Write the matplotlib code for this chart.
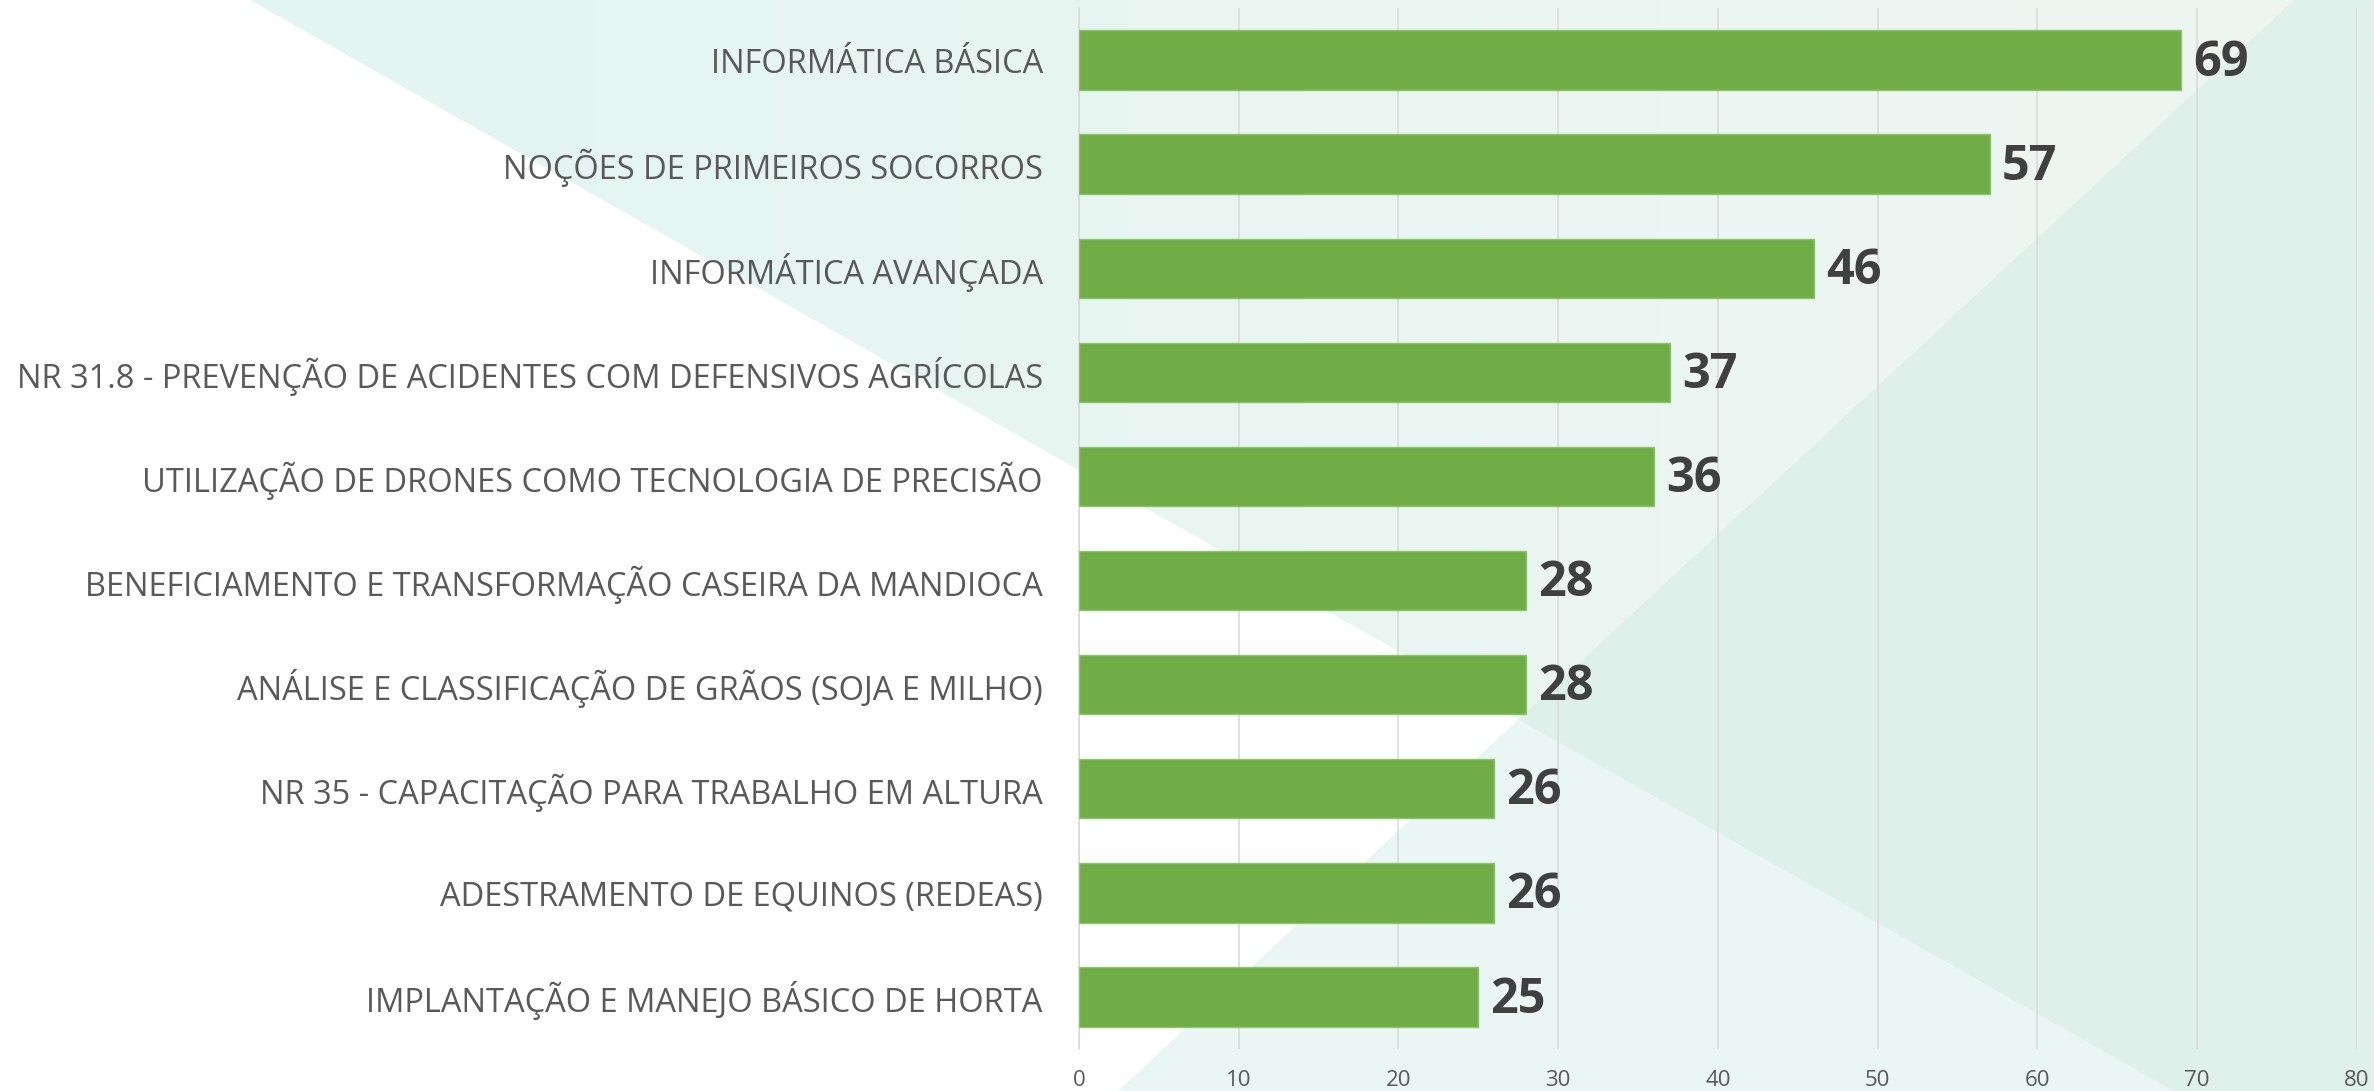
import numpy as np
import matplotlib
matplotlib.use('Agg')
import matplotlib.pyplot as plt
from matplotlib.patches import Polygon

plt.rcParams['font.family'] = ['Open Sans', 'DejaVu Sans']

# dados do gráfico
cursos = [
    "INFORMÁTICA BÁSICA",
    "NOÇÕES DE PRIMEIROS SOCORROS",
    "INFORMÁTICA AVANÇADA",
    "NR 31.8 - PREVENÇÃO DE ACIDENTES COM DEFENSIVOS AGRÍCOLAS",
    "UTILIZAÇÃO DE DRONES COMO TECNOLOGIA DE PRECISÃO",
    "BENEFICIAMENTO E TRANSFORMAÇÃO CASEIRA DA MANDIOCA",
    "ANÁLISE E CLASSIFICAÇÃO DE GRÃOS (SOJA E MILHO)",
    "NR 35 - CAPACITAÇÃO PARA TRABALHO EM ALTURA",
    "ADESTRAMENTO DE EQUINOS (REDEAS)",
    "IMPLANTAÇÃO E MANEJO BÁSICO DE HORTA",
]
inscritos = [69, 57, 46, 37, 36, 28, 28, 26, 26, 25]
x_ticks = [0, 10, 20, 30, 40, 50, 60, 70, 80]

fig = plt.figure(figsize=(23.74, 10.91), dpi=100)

# fundo com os triangulos
bg = fig.add_axes([0, 0, 1, 1], zorder=0)
bg.axis('off')

tri_a = Polygon([(0.1053, 0), (1, 0), (1, 1), (0.9158, 1)], closed=True,
                facecolor='none', edgecolor='none')
bg.add_patch(tri_a)
c0 = np.array([227, 245, 242]) / 255
c1 = np.array([239, 246, 241]) / 255
t = np.linspace(0, 1, 256)
grad = (c0[None, :] * (1 - t[:, None]) + c1[None, :] * t[:, None])[None, :, :]
im = bg.imshow(grad, extent=[0.1, 1, 1, 0], aspect='auto', interpolation='bilinear')
im.set_clip_path(tri_a)

tri_b = Polygon([(0.9663, 0), (1, 0), (1, 1), (0.4709, 1)], closed=True,
                facecolor='#cce9e1', alpha=0.4, edgecolor='none')
bg.add_patch(tri_b)
bg.set_xlim(0, 1)
bg.set_ylim(1, 0)

# grafico de barras
ax = fig.add_axes([0.4545, 0.0385, 0.5383, 0.9542], zorder=1)
ax.patch.set_alpha(0)

y = np.arange(len(cursos))
ax.barh(y, inscritos, height=0.57, color='#70ad47', edgecolor='#8fc46e',
        linewidth=1, zorder=3)
ax.set_ylim(len(cursos) - 0.5, -0.5)
ax.set_xlim(0, 80)
ax.set_xticks(x_ticks)
ax.set_yticks(y)
ax.set_yticklabels(cursos)
ax.grid(axis='x', color='#d9d9d9', linewidth=1.1, zorder=0)
ax.set_axisbelow(True)

for s in ['top', 'right', 'bottom']:
    ax.spines[s].set_visible(False)
ax.spines['left'].set_color('#d9d9d9')
ax.spines['left'].set_linewidth(1.1)

ax.tick_params(axis='both', length=0)
ax.tick_params(axis='x', pad=15, labelsize=16, labelcolor='#595959')
ax.tick_params(axis='y', pad=26, labelsize=23.5, labelcolor='#595959')

for yi, v in zip(y, inscritos):
    ax.text(v + 0.75, yi + 0.03, str(v), va='center', ha='left', fontsize=35,
            fontweight='bold', color='#404040', zorder=4)

fig.savefig('out.png', dpi=100)
